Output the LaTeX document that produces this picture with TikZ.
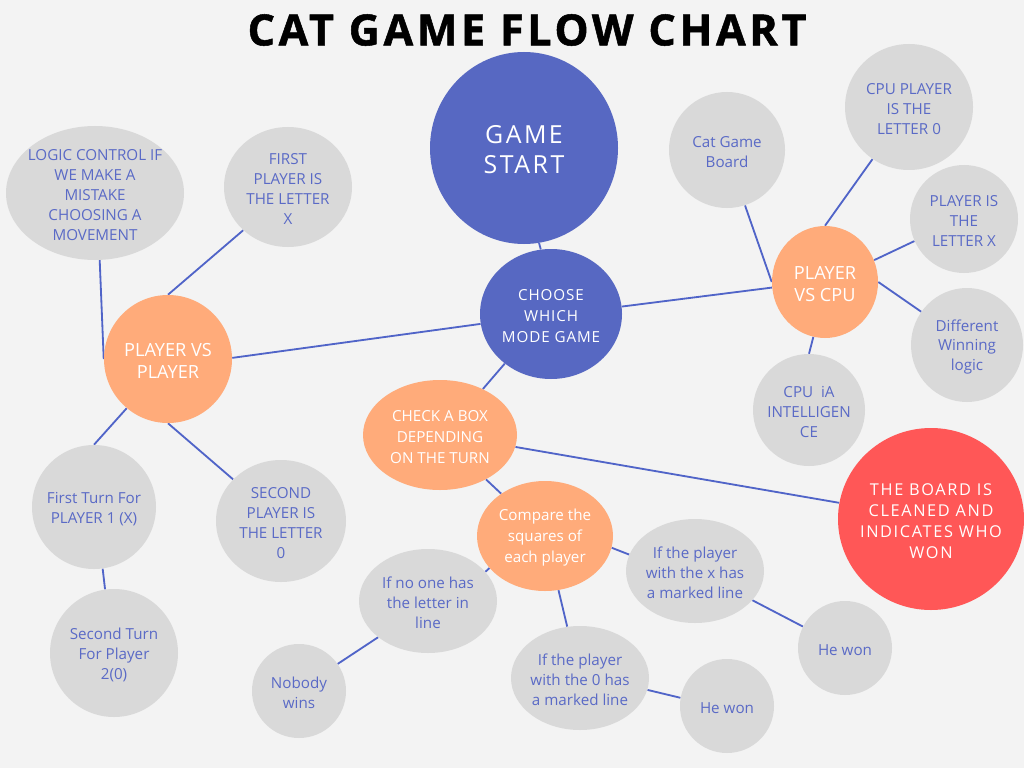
\documentclass[tikz,border=0pt]{standalone}
\usepackage{fontspec}
\setmainfont{Open Sans}
\newfontfamily\widefont{Open Sans}[LetterSpace=6]
\newfontfamily\widerfont{Open Sans}[LetterSpace=10]
\newfontfamily\titlefont{Open Sans}[LetterSpace=8.5, BoldFeatures={FakeBold=1.2}]
\usetikzlibrary{shapes.geometric,backgrounds}
\newdimen\pxu \pxu=0.025cm
\definecolor{bgc}{HTML}{F3F3F3}
\definecolor{grayc}{HTML}{D9D9D9}
\definecolor{bluec}{HTML}{5768C2}
\definecolor{orangec}{HTML}{FFAB7A}
\definecolor{redc}{HTML}{FF5757}
\definecolor{linec}{HTML}{5064C8}
\definecolor{txtblue}{HTML}{5A6AC6}
\tikzset{
  blob/.style 2 args={ellipse, inner sep=0pt, minimum width=#1\pxu, minimum height=#2\pxu},
  graybub/.style={fill=grayc},
  bluebub/.style={fill=bluec},
  orangebub/.style={fill=orangec},
  redbub/.style={fill=redc},
  gtxt/.style={align=center, inner sep=0pt, yshift=-2\pxu, text=txtblue, font=\fontsize{10.8}{14.2}\selectfont},
  wtxt/.style={align=center, inner sep=0pt, yshift=-2\pxu, text=white, font=\fontsize{10.8}{14.9}\selectfont},
  link/.style={draw=linec, line width=1.3pt},
}
\begin{document}
\begin{tikzpicture}[x=0.025cm, y=-0.025cm]
\begin{scope}[on background layer]
\fill[bgc] (0,0) rectangle (1024,768);
\end{scope}
\useasboundingbox (0,0) rectangle (1024,768);

% title
\node[inner sep=0pt, font=\titlefont\bfseries\fontsize{30.6}{34}\selectfont] (title) at (527,30) {CAT GAME FLOW CHART};

% main blue
\node[blob={188}{192}, bluebub] (start) at (524,148) {};
\node[wtxt, font=\widerfont\fontsize{17.7}{21.3}\selectfont] (start-t) at (start) {GAME\\START};
\node[blob={142}{130}, bluebub] (choose) at (551,314) {};
\node[wtxt, font=\widefont\fontsize{10.8}{14.9}\selectfont] (choose-t) at (choose) {CHOOSE\\WHICH\\MODE GAME};

% player vs player branch
\node[blob={128}{128}, orangebub] (pvp) at (168,359) {};
\node[wtxt, font=\fontsize{12.9}{15.6}\selectfont] (pvp-t) at (pvp) {PLAYER VS\\PLAYER};
\node[blob={178}{134}, graybub] (logic) at (95,193) {};
\node[gtxt] (logic-t) at (logic) {LOGIC CONTROL IF\\WE MAKE A\\MISTAKE\\CHOOSING A\\MOVEMENT};
\node[blob={128}{120}, graybub] (first) at (288,187) {};
\node[gtxt] (first-t) at (first) {FIRST\\PLAYER IS\\THE LETTER\\X};
\node[blob={124}{124}, graybub] (turn1) at (94,507) {};
\node[gtxt] (turn1-t) at (turn1) {First Turn For\\PLAYER 1 (X)};
\node[blob={130}{122}, graybub] (second) at (281,521) {};
\node[gtxt] (second-t) at (second) {SECOND\\PLAYER IS\\THE LETTER\\0};
\node[blob={128}{128}, graybub] (turn2) at (114,653) {};
\node[gtxt] (turn2-t) at (turn2) {Second Turn\\For Player\\2(0)};

% player vs cpu branch
\node[blob={106}{112}, orangebub] (pvcpu) at (825,282) {};
\node[wtxt, font=\fontsize{12.9}{15.6}\selectfont] (pvcpu-t) at (pvcpu) {PLAYER\\VS CPU};
\node[blob={116}{116}, graybub] (catb) at (727,150) {};
\node[gtxt] (catb-t) at (catb) {Cat Game\\Board};
\node[blob={128}{126}, graybub] (cpu0) at (909,107) {};
\node[gtxt] (cpu0-t) at (cpu0) {CPU PLAYER\\IS THE\\LETTER 0};
\node[blob={108}{108}, graybub] (plx) at (964,219) {};
\node[gtxt] (plx-t) at (plx) {PLAYER IS\\THE\\LETTER X};
\node[blob={112}{114}, graybub] (diff) at (967,345) {};
\node[gtxt] (diff-t) at (diff) {Different\\Winning\\logic};
\node[blob={112}{112}, graybub] (cpuia) at (809,410) {};
\node[gtxt] (cpuia-t) at (cpuia) {CPU~~iA\\INTELLIGEN\\CE};

% game flow
\node[blob={154}{110}, orangebub] (check) at (440,435) {};
\node[wtxt] (check-t) at (check) {CHECK A BOX\\DEPENDING\\ON THE TURN};
\node[blob={186}{182}, redbub] (board) at (931,519) {};
\node[wtxt, font=\widerfont\fontsize{11.6}{14.9}\selectfont] (board-t) at (board) {THE BOARD IS\\CLEANED AND\\INDICATES WHO\\WON};
\node[blob={136}{110}, orangebub] (compare) at (545,536) {};
\node[wtxt] (compare-t) at (compare) {Compare the\\squares of\\each player};
\node[blob={138}{104}, graybub] (ifno) at (428,601) {};
\node[gtxt] (ifno-t) at (ifno) {If no one has\\the letter in\\line};
\node[blob={138}{104}, graybub] (if0) at (580,678) {};
\node[gtxt] (if0-t) at (if0) {If the player\\with the 0 has\\a marked line};
\node[blob={138}{104}, graybub] (ifx) at (695,571) {};
\node[gtxt] (ifx-t) at (ifx) {If the player\\with the x has\\a marked line};
\node[blob={94}{94}, graybub] (won1) at (845,648) {};
\node[gtxt] (won1-t) at (won1) {He won};
\node[blob={94}{94}, graybub] (won2) at (727,706) {};
\node[gtxt] (won2-t) at (won2) {He won};
\node[blob={94}{94}, graybub] (nobody) at (299,691) {};
\node[gtxt] (nobody-t) at (nobody) {Nobody\\wins};

\begin{scope}[on background layer]
\draw[link] (start.-81.6) -- (choose.99.8);
\draw[link] (choose.188) -- (pvp.1);
\draw[link] (choose.6.3) -- (pvcpu.186.5);
\draw[link] (choose.-133) -- (check.47.5);
\draw[link] (check.-9.7) -- (board.170.2);
\draw[link] (check.-44.4) -- (compare.136.3);
\draw[link] (compare.-10) -- (ifx.166.8);
\draw[link] (compare.-76.7) -- (if0.104.3);
\draw[link] (compare.-150.7) -- (ifno.27.5);
\draw[link] (ifno.-144.8) -- (nobody.35.3);
\draw[link] (if0.-10.8) -- (won2.170.3);
\draw[link] (ifx.-27.8) -- (won1.153.4);
\draw[link] (pvp.180) -- (logic.-86.6);
\draw[link] (pvp.90) -- (first.-136.9);
\draw[link] (pvp.-130.6) -- (turn1.90);
\draw[link] (pvp.-90) -- (second.139.4);
\draw[link] (turn1.-82.6) -- (turn2.98);
\draw[link] (pvcpu.180) -- (catb.-72.2);
\draw[link] (pvcpu.90) -- (cpu0.-125.4);
\draw[link] (pvcpu.24.6) -- (plx.204.3);
\draw[link] (pvcpu.0) -- (diff.144.9);
\draw[link] (pvcpu.-102.3) -- (cpuia.90);
\end{scope}
\end{tikzpicture}
\end{document}
